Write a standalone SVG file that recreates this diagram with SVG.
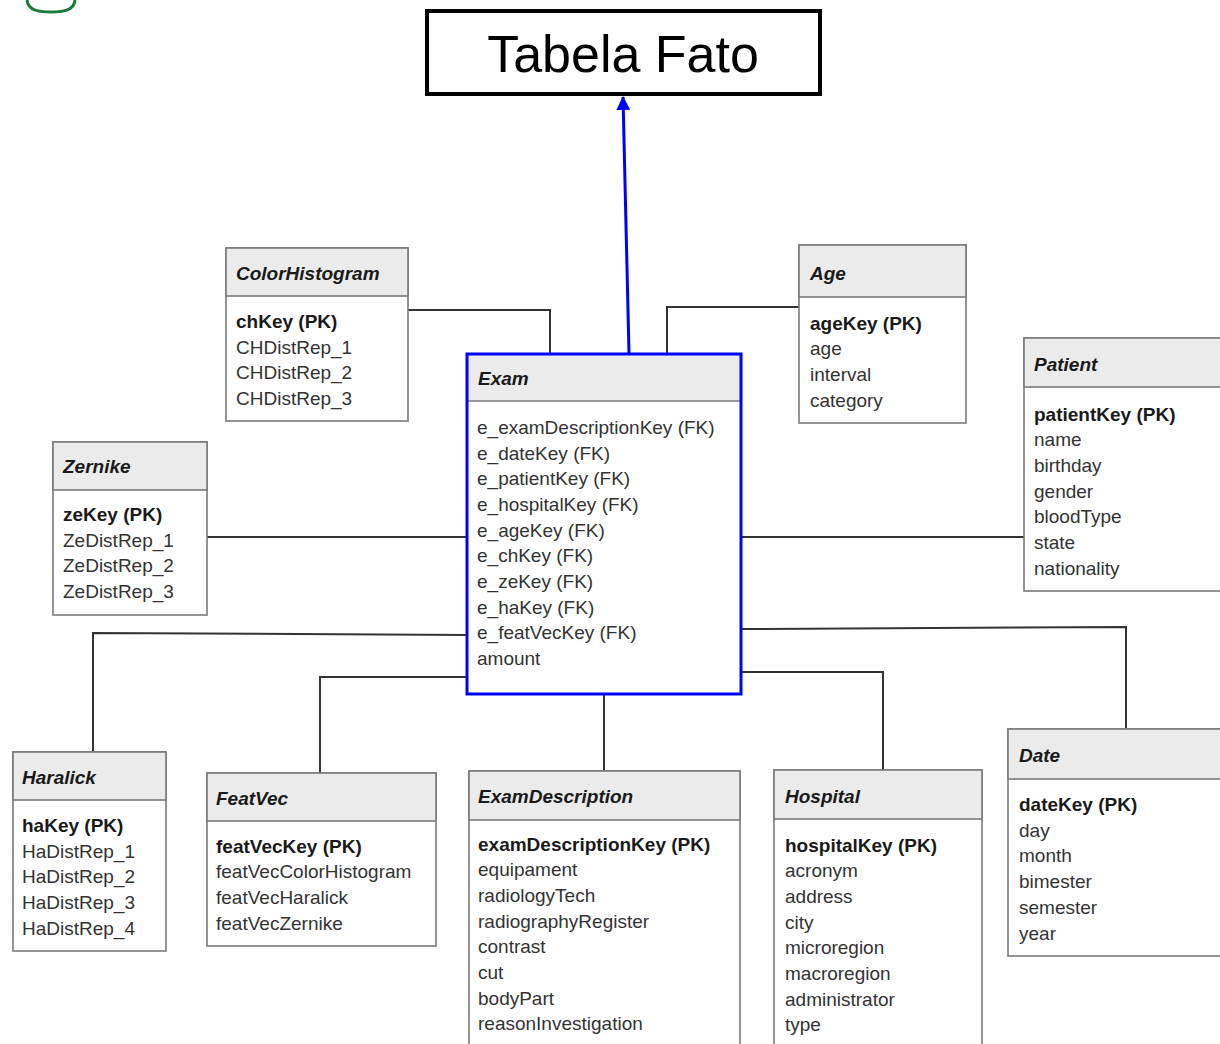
<svg xmlns="http://www.w3.org/2000/svg" width="1220" height="1044" viewBox="0 0 1220 1044">
<style>
.box{fill:#fff;stroke:#7a7a7a;stroke-width:1.6}
.hdr{fill:#ebebeb;stroke:#7a7a7a;stroke-width:1.6}
.title{font-family:"Liberation Sans",Arial,sans-serif;font-size:19px;font-weight:bold;font-style:italic;fill:#1a1a1a}
.pk{font-family:"Liberation Sans",Arial,sans-serif;font-size:19px;font-weight:bold;fill:#1a1a1a}
.it{font-family:"Liberation Sans",Arial,sans-serif;font-size:19px;fill:#333}
.conn{fill:none;stroke:#333;stroke-width:2}
</style>
<defs>
<marker id="arr" markerWidth="14" markerHeight="14" refX="13" refY="7" orient="auto" markerUnits="userSpaceOnUse" viewBox="0 0 14 14">
<path d="M0,0 L14,7 L0,14 Z" fill="#0000ff"/>
</marker>
</defs>
<rect width="1220" height="1044" fill="#fff"/>
<path d="M27,0 C28,11 40,12 51,12 C62,12 74,11 75,0" fill="none" stroke="#1e7a3a" stroke-width="3"/>

<g id="connectors">
<path class="conn" d="M408,310 H550 V354"/>
<path class="conn" d="M799,307 H667 V354"/>
<path class="conn" d="M207,537 H467"/>
<path class="conn" d="M741,537 H1024"/>
<path class="conn" d="M467,635 L93,633 V752"/>
<path class="conn" d="M467,677 H320 V773"/>
<path class="conn" d="M604,694 V771"/>
<path class="conn" d="M741,672 H883 V770"/>
<path class="conn" d="M741,629 L1126,627 V729"/>
<path d="M629,353 L623,97" fill="none" stroke="#0000ff" stroke-width="3" marker-end="url(#arr)"/>
</g>

<g id="tabela-fato">
<rect x="427" y="11" width="393" height="83" fill="#fff" stroke="#000" stroke-width="4"/>
<text x="623" y="72" text-anchor="middle" font-family="'Liberation Sans',Arial,sans-serif" font-size="52" fill="#000">Tabela Fato</text>
</g>

<g id="colorhistogram">
<rect class="box" x="226" y="248" width="182" height="173"/>
<rect class="hdr" x="226" y="248" width="182" height="48"/>
<text class="title" x="236" y="280">ColorHistogram</text>
<text class="pk" x="236" y="328">chKey (PK)</text>
<text class="it" x="236" y="354">CHDistRep_1</text>
<text class="it" x="236" y="379">CHDistRep_2</text>
<text class="it" x="236" y="405">CHDistRep_3</text>
</g>

<g id="age">
<rect class="box" x="799" y="245" width="167" height="178"/>
<rect class="hdr" x="799" y="245" width="167" height="52"/>
<text class="title" x="810" y="280">Age</text>
<text class="pk" x="810" y="330">ageKey (PK)</text>
<text class="it" x="810" y="355">age</text>
<text class="it" x="810" y="381">interval</text>
<text class="it" x="810" y="407">category</text>
</g>

<g id="patient">
<rect class="box" x="1024" y="338" width="200" height="253"/>
<rect class="hdr" x="1024" y="338" width="200" height="49"/>
<text class="title" x="1034" y="371">Patient</text>
<text class="pk" x="1034" y="421">patientKey (PK)</text>
<text class="it" x="1034" y="446">name</text>
<text class="it" x="1034" y="472">birthday</text>
<text class="it" x="1034" y="498">gender</text>
<text class="it" x="1034" y="523">bloodType</text>
<text class="it" x="1034" y="549">state</text>
<text class="it" x="1034" y="575">nationality</text>
</g>

<g id="zernike">
<rect class="box" x="53" y="442" width="154" height="173"/>
<rect class="hdr" x="53" y="442" width="154" height="48"/>
<text class="title" x="63" y="473">Zernike</text>
<text class="pk" x="63" y="521">zeKey (PK)</text>
<text class="it" x="63" y="547">ZeDistRep_1</text>
<text class="it" x="63" y="572">ZeDistRep_2</text>
<text class="it" x="63" y="598">ZeDistRep_3</text>
</g>

<g id="exam">
<rect x="467" y="354" width="274" height="340" fill="#fff" stroke="none"/>
<rect x="467" y="354" width="274" height="47" fill="#ebebeb"/>
<line x1="467" y1="401" x2="741" y2="401" stroke="#7a7a7a" stroke-width="1.6"/>
<rect x="467" y="354" width="274" height="340" fill="none" stroke="#0000ff" stroke-width="3"/>
<text class="title" x="478" y="385">Exam</text>
<text class="it" x="477" y="434">e_examDescriptionKey (FK)</text>
<text class="it" x="477" y="460">e_dateKey (FK)</text>
<text class="it" x="477" y="485">e_patientKey (FK)</text>
<text class="it" x="477" y="511">e_hospitalKey (FK)</text>
<text class="it" x="477" y="537">e_ageKey (FK)</text>
<text class="it" x="477" y="562">e_chKey (FK)</text>
<text class="it" x="477" y="588">e_zeKey (FK)</text>
<text class="it" x="477" y="614">e_haKey (FK)</text>
<text class="it" x="477" y="639">e_featVecKey (FK)</text>
<text class="it" x="477" y="665">amount</text>
</g>

<g id="haralick">
<rect class="box" x="13" y="752" width="153" height="199"/>
<rect class="hdr" x="13" y="752" width="153" height="48"/>
<text class="title" x="22" y="784">Haralick</text>
<text class="pk" x="22" y="832">haKey (PK)</text>
<text class="it" x="22" y="858">HaDistRep_1</text>
<text class="it" x="22" y="883">HaDistRep_2</text>
<text class="it" x="22" y="909">HaDistRep_3</text>
<text class="it" x="22" y="935">HaDistRep_4</text>
</g>

<g id="featvec">
<rect class="box" x="207" y="773" width="229" height="173"/>
<rect class="hdr" x="207" y="773" width="229" height="48"/>
<text class="title" x="216" y="805">FeatVec</text>
<text class="pk" x="216" y="853">featVecKey (PK)</text>
<text class="it" x="216" y="878">featVecColorHistogram</text>
<text class="it" x="216" y="904">featVecHaralick</text>
<text class="it" x="216" y="930">featVecZernike</text>
</g>

<g id="examdescription">
<rect class="box" x="469" y="771" width="271" height="280"/>
<rect class="hdr" x="469" y="771" width="271" height="49"/>
<text class="title" x="478" y="803">ExamDescription</text>
<text class="pk" x="478" y="851">examDescriptionKey (PK)</text>
<text class="it" x="478" y="876">equipament</text>
<text class="it" x="478" y="902">radiologyTech</text>
<text class="it" x="478" y="928">radiographyRegister</text>
<text class="it" x="478" y="953">contrast</text>
<text class="it" x="478" y="979">cut</text>
<text class="it" x="478" y="1005">bodyPart</text>
<text class="it" x="478" y="1030">reasonInvestigation</text>
</g>

<g id="hospital">
<rect class="box" x="774" y="770" width="208" height="281"/>
<rect class="hdr" x="774" y="770" width="208" height="49"/>
<text class="title" x="785" y="803">Hospital</text>
<text class="pk" x="785" y="852">hospitalKey (PK)</text>
<text class="it" x="785" y="877">acronym</text>
<text class="it" x="785" y="903">address</text>
<text class="it" x="785" y="929">city</text>
<text class="it" x="785" y="954">microregion</text>
<text class="it" x="785" y="980">macroregion</text>
<text class="it" x="785" y="1006">administrator</text>
<text class="it" x="785" y="1031">type</text>
</g>

<g id="date">
<rect class="box" x="1008" y="729" width="216" height="227"/>
<rect class="hdr" x="1008" y="729" width="216" height="50"/>
<text class="title" x="1019" y="762">Date</text>
<text class="pk" x="1019" y="811">dateKey (PK)</text>
<text class="it" x="1019" y="837">day</text>
<text class="it" x="1019" y="862">month</text>
<text class="it" x="1019" y="888">bimester</text>
<text class="it" x="1019" y="914">semester</text>
<text class="it" x="1019" y="940">year</text>
</g>
</svg>
